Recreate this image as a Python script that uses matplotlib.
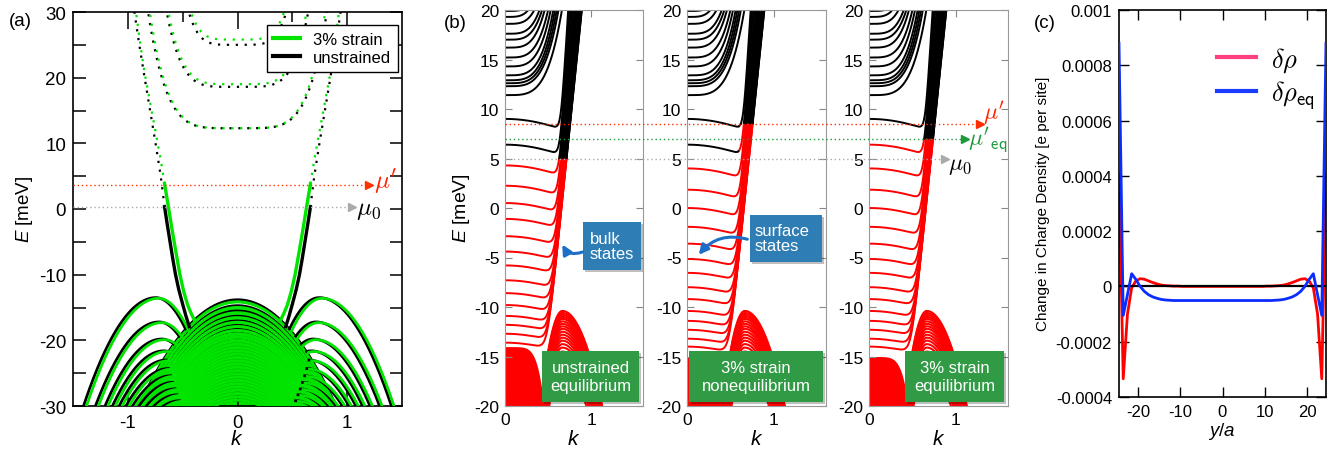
import numpy as np
import matplotlib
matplotlib.use("Agg")
import matplotlib.pyplot as plt
from matplotlib.lines import Line2D
from matplotlib.patches import Rectangle, FancyArrowPatch
from matplotlib.transforms import blended_transform_factory

plt.rcParams['font.family'] = ['Liberation Sans', 'DejaVu Sans']
plt.rcParams['font.size'] = 12
plt.rcParams['axes.unicode_minus'] = False
plt.rcParams['mathtext.fontset'] = 'custom'
plt.rcParams['mathtext.it'] = 'Liberation Sans:italic'
plt.rcParams['mathtext.rm'] = 'Liberation Sans'
plt.rcParams['mathtext.sf'] = 'Liberation Sans'

# ---------------- (a) ribbon spectrum: unstrained (black) / 3% strain (green) ----------------
# conduction subbands: bottom energy [meV] and |k| where they reach E = 30
cond_bottom_un = [12.3, 18.6, 25.0]
cond_bottom_st = [12.3, 19.0, 25.8]
cond_ktop_un = [0.815, 0.645, 0.445]
cond_ktop_st = [0.80, 0.63, 0.425]
# edge states, filled part (solid)
edge_k_un = [0.665, 0.64, 0.615, 0.59, 0.565, 0.535, 0.50, 0.47, 0.44]
edge_E_un = [0.3, -2.4, -5.0, -7.6, -10.0, -12.3, -14.5, -16.3, -17.9]
edge_k_st = [0.665, 0.63, 0.595, 0.56, 0.525, 0.49, 0.455, 0.42, 0.39]
edge_E_st = [3.85, 0.3, -3.3, -6.7, -10.0, -12.6, -14.6, -16.0, -17.0]
# edge states, empty part (dotted)
empty_k_un = [0.665, 0.70, 0.75, 0.80, 0.85, 0.90, 0.94]
empty_E_un = [0.3, 5.0, 10.3, 15.3, 20.3, 25.5, 30.0]
empty_k_st = [0.665, 0.70, 0.75, 0.80, 0.85, 0.89, 0.925]
empty_E_st = [3.85, 7.5, 12.0, 16.5, 21.0, 25.5, 30.0]
# valence side humps (peak energy, peak |k|) and central domes (top energy)
hump_E_un = [-13.5, -17.2, -19.8, -21.6, -23.0, -24.3, -25.4, -26.4, -27.4, -28.3, -29.2]
hump_E_st = [-13.6, -17.3, -19.9, -21.7, -23.1, -24.4, -25.5, -26.5, -27.5, -28.4, -29.3]
hump_k = [0.745, 0.715, 0.69, 0.67, 0.65, 0.63, 0.61, 0.59, 0.57, 0.55, 0.53]
dome_E_un = [-13.8, -14.7, -15.5, -16.3, -17.0, -17.7, -18.3, -18.9, -19.5, -20.1,
             -20.6, -21.1, -21.6, -22.1, -22.6, -23.1, -23.6, -24.1, -24.6, -25.1,
             -25.6, -26.1, -26.6, -27.1, -27.6, -28.1, -28.6, -29.1]
dome_E_st = [-14.15, -15.0, -15.8, -16.55, -17.25, -17.9, -18.5, -19.0, -19.5, -20.1,
             -20.6, -21.1, -21.6, -22.1, -22.6, -23.1, -23.6, -24.1, -24.6, -25.1,
             -25.6, -26.1, -26.6, -27.1, -27.6, -28.1, -28.6, -29.1]
k_shift_st = 0.025
dome_curv, hump_out, hump_in, cond_pow = 20.0, 38.0, 65.0, 5
mu0_a, mup_a = 0.3, 3.7

# ---------------- (b) occupied (red) / empty (black) subbands ----------------
hat_E_un = [9.0, 6.4, 4.3, 2.25, 0.5, -1.1, -2.85, -4.4, -5.8, -7.3, -8.6, -9.8,
            -10.9, -11.8, -12.7, -13.6]
hat_E_st = [9.0, 6.4, 4.0, 1.85, 0.0, -1.9, -3.6, -5.15, -6.55, -8.0, -9.2, -10.4,
            -11.4, -12.3, -13.2, -14.0]
hat_wall_slope = [140, 132, 125, 118, 112, 107, 103, 99, 96, 93, 91, 89, 87, 86, 85, 85]
upper_E = [11.4, 12.3, 12.6, 12.9, 13.4, 14.3, 15.2, 16.2, 17.0, 17.6, 18.6, 19.3, 19.9]
upper_ktop = [0.66, 0.62, 0.60, 0.58, 0.56, 0.53, 0.50, 0.46, 0.43, 0.40, 0.34, 0.27, 0.18]
bdome_E = [-10.4, -10.6, -10.8, -11.0, -11.2, -11.45, -11.7, -11.95, -12.2, -12.5, -12.8,
           -13.1, -13.4, -13.75, -14.1, -14.5, -14.9, -15.4, -15.9, -16.5]
bdome_k, bdome_in, bdome_out = 0.665, 150.0, 45.0
fill_top_un, fill_top_st, fill_kedge = -14.0, -15.0, 0.45
wall_pivot_k, wall_pivot_E = 0.49, -14.0
hat_dip, tau, upper_pow = 2.5, 2.5, 4
mu0_b, mup_b, mueq_b = 5.0, 8.5, 7.0
box_labels = ["unstrained\nequilibrium", "3% strain\nnonequilibrium", "3% strain\nequilibrium"]

# ---------------- (c) change in charge density across the ribbon ----------------
sites = [-24.5, -23.5, -22.5, -21.5, -20.5, -19.5, -18.5, -17.5, -16.5, -15.5,
         -14.5, -13.5, -12.5, -11.5, -10.5, -9.5, -8.5, -7.5, -6.5, -5.5,
         -4.5, -3.5, -2.5, -1.5, -0.5, 0.5, 1.5, 2.5, 3.5, 4.5,
         5.5, 6.5, 7.5, 8.5, 9.5, 10.5, 11.5, 12.5, 13.5, 14.5,
         15.5, 16.5, 17.5, 18.5, 19.5, 20.5, 21.5, 22.5, 23.5, 24.5]
drho = [4.07e-4, -3.34e-4, -1.0e-4, -0.05e-4, 0.20e-4, 0.28e-4, 0.26e-4, 0.20e-4, 0.14e-4, 0.09e-4,
        0.05e-4, 0.03e-4, 0.02e-4, 0.01e-4, 0.01e-4, 0.0, 0.0, 0.0, 0.0, 0.0,
        0.0, 0.0, 0.0, 0.0, 0.0, 0.0, 0.0, 0.0, 0.0, 0.0,
        0.0, 0.0, 0.0, 0.0, 0.0, 0.01e-4, 0.01e-4, 0.02e-4, 0.03e-4, 0.05e-4,
        0.09e-4, 0.14e-4, 0.20e-4, 0.26e-4, 0.28e-4, 0.20e-4, -0.05e-4, -1.0e-4, -3.34e-4, 4.07e-4]
drho_eq = [8.8e-4, -1.05e-4, -0.30e-4, 0.46e-4, 0.25e-4, 0.0, -0.18e-4, -0.30e-4, -0.38e-4, -0.43e-4,
           -0.47e-4, -0.49e-4, -0.50e-4, -0.51e-4, -0.51e-4, -0.51e-4, -0.51e-4, -0.51e-4, -0.51e-4, -0.51e-4,
           -0.51e-4, -0.51e-4, -0.51e-4, -0.51e-4, -0.51e-4, -0.51e-4, -0.51e-4, -0.51e-4, -0.51e-4, -0.51e-4,
           -0.51e-4, -0.51e-4, -0.51e-4, -0.51e-4, -0.51e-4, -0.51e-4, -0.51e-4, -0.50e-4, -0.49e-4, -0.47e-4,
           -0.43e-4, -0.38e-4, -0.30e-4, -0.18e-4, 0.0, 0.25e-4, 0.46e-4, -0.30e-4, -1.05e-4, 8.8e-4]
c_yticks = [-0.0004, -0.0002, 0, 0.0002, 0.0004, 0.0006, 0.0008, 0.001]
c_yticklabels = ['-0.0004', '-0.0002', '0', '0.0002', '0.0004', '0.0006', '0.0008', '0.001']

GREEN = '#00e400'
RED = '#ff0000'

W, H = 1340, 452
fig = plt.figure(figsize=(W / 100, H / 100), dpi=100)


def fx(x):
    return x / W


def fy(y):
    return 1 - y / H


def px_axes(l, r, t, b):
    return fig.add_axes([fx(l), fy(b), (r - l) / W, (b - t) / H])


# ======================= panel (a) =======================
axA = px_axes(73, 402, 13, 407)
k = np.linspace(-1.5, 1.5, 1501)


def dome(Et, kk):
    return Et - dome_curv * kk ** 2


# green filled valence core
top_green = dome(dome_E_st[1], k)
axA.fill_between(k, -31, top_green, where=top_green > -31, color=GREEN, lw=0, zorder=1)
for Et in dome_E_un:
    axA.plot(k, dome(Et, k), color='black', lw=1.8, zorder=2)
for Et in dome_E_st:
    axA.plot(k, dome(Et, k), color=GREEN, lw=2.2, zorder=3)

for col, hE, shift, top, z in [('black', hump_E_un, 0.0, dome_E_un[0], 4),
                               (GREEN, hump_E_st, k_shift_st, dome_E_st[0], 5)]:
    kk = np.abs(k - shift)
    for Ep, kp in zip(hE, hump_k):
        E = np.where(kk > kp, Ep - hump_out * (kk - kp) ** 2, Ep - hump_in * (kk - kp) ** 2)
        E = np.where((kk < kp) & (E < dome(top, k - shift)), np.nan, E)
        axA.plot(k, E, color=col, lw=2.0, zorder=z)

# edge states
for s in (-1, 1):
    axA.plot(s * np.array(edge_k_un), edge_E_un, color='black', lw=2.4, zorder=6)
    axA.plot(s * np.array(edge_k_st), edge_E_st, color=GREEN, lw=2.4, zorder=7)

dots = (0, (1, 3))
for s in (-1, 1):
    axA.plot(s * np.array(empty_k_un), empty_E_un, color='black', lw=1.6, ls=dots, zorder=6)
    axA.plot(s * np.array(empty_k_st), empty_E_st, color=GREEN, lw=1.6, ls=dots, zorder=6)
for Eb, kt in zip(cond_bottom_un, cond_ktop_un):
    E = Eb + (30 - Eb) * (np.abs(k) / kt) ** cond_pow
    axA.plot(k, np.where(E < 31, E, np.nan), color='black', lw=1.6, ls=dots, zorder=6)
for Eb, kt in zip(cond_bottom_st, cond_ktop_st):
    E = Eb + (30 - Eb) * (np.abs(k) / kt) ** cond_pow
    axA.plot(k, np.where(E < 31, E, np.nan), color=GREEN, lw=1.6, ls=dots, zorder=6)

# chemical potentials
axA.plot([-1.5, 1.2], [mup_a, mup_a], color='#ff3300', lw=1.0, ls=(0, (1, 2)), zorder=8)
axA.plot([1.2], [mup_a], marker='>', color='#ff3300', ms=6, zorder=8, clip_on=False)
axA.plot([-1.5, 1.045], [mu0_a, mu0_a], color='#aaaaaa', lw=1.0, ls=(0, (1, 2)), zorder=8)
axA.plot([1.045], [mu0_a], marker='>', color='#aaaaaa', ms=6, zorder=8)
axA.text(1.245, 4.3, r"$\mu'$", color='#ff2200', fontsize=18, ha='left', va='center',
         math_fontfamily='cm', zorder=9)
axA.text(1.085, 0.0, r"$\mu_0$", color='black', fontsize=18, ha='left', va='center',
         math_fontfamily='cm', zorder=9)

axA.set_xlim(-1.5, 1.5)
axA.set_ylim(-30, 30)
axA.set_xticks([-1, 0, 1])
axA.set_xticklabels(['-1', '0', '1'])
axA.set_xticks([-0.5, 0.5], minor=True)
axA.set_yticks([-30, -20, -10, 0, 10, 20, 30])
axA.set_yticks([-25, -15, -5, 5, 15, 25], minor=True)
axA.tick_params(which='both', direction='in', top=True, right=True, width=1.1, labelsize=13.5)
axA.tick_params(axis='x', which='major', length=12, pad=6)
axA.tick_params(axis='x', which='minor', length=7)
axA.tick_params(axis='y', which='both', length=9, pad=5)
for sp in axA.spines.values():
    sp.set_linewidth(1.2)
leg = axA.legend([Line2D([], [], color=GREEN, lw=3), Line2D([], [], color='black', lw=3)],
                 ['3% strain', 'unstrained'], loc='upper right', bbox_to_anchor=(0.988, 0.967),
                 borderaxespad=0, fancybox=False, edgecolor='black', framealpha=1,
                 handlelength=1.6, handletextpad=0.8, labelspacing=0.2, borderpad=0.4, fontsize=12)
leg.get_frame().set_linewidth(1.0)
leg.set_zorder(10)

fig.text(fx(25), fy(209), r'$E$ [meV]', rotation=90, ha='center', va='center', fontsize=13.5)
fig.text(fx(237), fy(440), r'$k$', ha='center', va='center', fontsize=15)
fig.text(fx(20), fy(22), '(a)', ha='center', va='center', fontsize=13.5)

# ======================= panel (b) =======================
kB = np.linspace(0, 1.6, 1601)
b_lefts = [(505, 643), (687, 826), (869, 1008)]
b_settings = [(hat_E_un, fill_top_un, mu0_b, mu0_b),
              (hat_E_st, fill_top_st, mu0_b, mup_b),
              (hat_E_st, fill_top_st, mueq_b, mueq_b)]


def draw_occ(ax, E, mu_b, mu_s, slope=None, lw=1.5):
    occ = E < mu_b
    if slope is not None:
        kw = wall_pivot_k + (E - wall_pivot_E) / slope
        occ = occ | ((E < mu_s) & (kB > kw - 0.05))
    ax.plot(kB, np.where(occ, E, np.nan), color=RED, lw=lw)
    ax.plot(kB, np.where(occ, np.nan, E), color='black', lw=lw)


axBs = []
for (l, r), (hatE, ftop, mu_b, mu_s) in zip(b_lefts, b_settings):
    ax = px_axes(l, r, 11, 407)
    axBs.append(ax)
    top = ftop - (20 + ftop) * (kB / fill_kedge) ** 6
    ax.fill_between(kB, -21, top, where=top > -21, color=RED, lw=0)
    for Ed in bdome_E:
        b = np.where(kB < bdome_k, bdome_in, bdome_out)
        ax.plot(kB, Ed - b * (kB - bdome_k) ** 2, color=RED, lw=1.5)
    for E0, S in zip(hatE, hat_wall_slope):
        flat = E0 - hat_dip * kB ** 2
        wl = wall_pivot_E + S * (kB - wall_pivot_k)
        draw_occ(ax, tau * np.logaddexp(flat / tau, wl / tau), mu_b, mu_s, S, lw=1.4)
    for E0, kt in zip(upper_E, upper_ktop):
        E = E0 + (20 - E0) * (kB / kt) ** upper_pow
        draw_occ(ax, np.where(E < 21, E, np.nan), mu_b, mu_s, lw=1.4)
    ax.set_xlim(0, 1.6)
    ax.set_ylim(-20, 20)
    ax.set_xticks([0, 1])
    ax.set_yticks([-20, -15, -10, -5, 0, 5, 10, 15, 20])
    ax.tick_params(direction='in', top=True, right=True, length=5, width=0.8,
                   color='#888888', labelsize=12.5, pad=4)
    for sp in ax.spines.values():
        sp.set_color('#999999')
        sp.set_linewidth(0.8)
    fig.text(fx((l + r) / 2), fy(440), r'$k$', ha='center', va='center', fontsize=15)

fig.text(fx(461), fy(208), r'$E$ [meV]', rotation=90, ha='center', va='center', fontsize=14)
fig.text(fx(455), fy(24), '(b)', ha='center', va='center', fontsize=13.5)

# chemical potential lines across the three subpanels
tB = blended_transform_factory(fig.transFigure, axBs[0].transData)
for E, x_end, col in [(mup_b, 980, '#ff2a00'), (mueq_b, 965, '#1e9a3c'), (mu0_b, 945, '#aaaaaa')]:
    fig.add_artist(Line2D([fx(505), fx(x_end)], [E, E], transform=tB, color=col, lw=1.0,
                          ls=(0, (1, 2)), zorder=15))
    fig.add_artist(Line2D([fx(x_end)], [E], transform=tB, color=col, marker='>', ms=6,
                          zorder=15))
fig.text(fx(983), 9.7, r"$\mu'$", transform=tB, color='#ff2200', fontsize=17, ha='left',
         va='center', math_fontfamily='cm', zorder=16)
fig.text(fx(968), 6.9, r"${\mu'}_{\mathsf{eq}}$", transform=tB, color='#1e9a3c', fontsize=17,
         ha='left', va='center', math_fontfamily='cm', zorder=16)
fig.text(fx(948), 4.3, r"$\mu_0$", transform=tB, color='black', fontsize=17, ha='left',
         va='center', math_fontfamily='cm', zorder=16)


def label_box(x0, y0, x1, y1, color, text, tx, ha, ls):
    fig.add_artist(Rectangle((fx(x0) + 2 / W, fy(y1) - 2 / H), (x1 - x0) / W, (y1 - y0) / H,
                             transform=fig.transFigure, fc=(0, 0, 0, 0.25), ec='none', zorder=20))
    fig.add_artist(Rectangle((fx(x0), fy(y1)), (x1 - x0) / W, (y1 - y0) / H,
                             transform=fig.transFigure, fc=color, ec='none', zorder=21))
    fig.text(fx(tx), fy((y0 + y1) / 2), text, color='white', fontsize=12, ha=ha, va='center',
             linespacing=ls, zorder=22)


label_box(583, 223, 641, 271, '#2e7db4', 'bulk\nstates', 590, 'left', 1.0)
label_box(750, 216, 822, 263, '#2e7db4', 'surface\nstates', 755, 'left', 1.0)
for (x0, x1), txt in zip([(542, 639), (689, 823), (905, 1004)], box_labels):
    label_box(x0, 352, x1, 403, '#319a45', txt, (x0 + x1) / 2, 'center', 1.3)

for (xa, ya), (xb, yb), rad in [((585, 252), (561, 243), -0.5), ((750, 241), (697, 258), 0.35)]:
    fig.add_artist(FancyArrowPatch((fx(xa), fy(ya)), (fx(xb), fy(yb)), transform=fig.transFigure,
                                   connectionstyle='arc3,rad=%g' % rad, arrowstyle='-|>',
                                   mutation_scale=14, lw=2.2, color='#1c6fc6', zorder=23))

# ======================= panel (c) =======================
axC = px_axes(1119, 1326, 11, 398)
axC.plot(sites, drho, color=RED, lw=2.0, zorder=2)
axC.axhline(0, color='black', lw=1.6, zorder=3)
axC.plot(sites, drho_eq, color='#0b2cff', lw=2.0, zorder=4)
axC.set_xlim(-24.5, 24.5)
axC.set_ylim(-0.0004, 0.001)
axC.set_xticks([-20, -10, 0, 10, 20])
axC.set_yticks(c_yticks)
axC.set_yticklabels(c_yticklabels)
axC.tick_params(direction='in', top=True, right=True, length=7, width=1.0, labelsize=12, pad=5)
for sp in axC.spines.values():
    sp.set_linewidth(1.2)
legC = axC.legend([Line2D([], [], color='#ff4080', lw=3), Line2D([], [], color='#1a3cff', lw=3)],
                  [r'$\delta\rho$', r'$\delta\rho_{\mathsf{eq}}$'], loc='upper left',
                  bbox_to_anchor=(0.473, 0.91), borderaxespad=0, borderpad=0, frameon=False,
                  handlelength=1.5, handletextpad=0.55, labelspacing=0.15, fontsize=19)
for t in legC.get_texts():
    t.set_math_fontfamily('cm')
fig.text(fx(1043), fy(204), 'Change in Charge Density [e per site]', rotation=90, ha='center',
         va='center', fontsize=11)
fig.text(fx(1222), fy(432), r'$y/a$', ha='center', va='center', fontsize=13.5)
fig.text(fx(1045), fy(23), '(c)', ha='center', va='center', fontsize=13.5)

fig.savefig('out.png', dpi=100)
